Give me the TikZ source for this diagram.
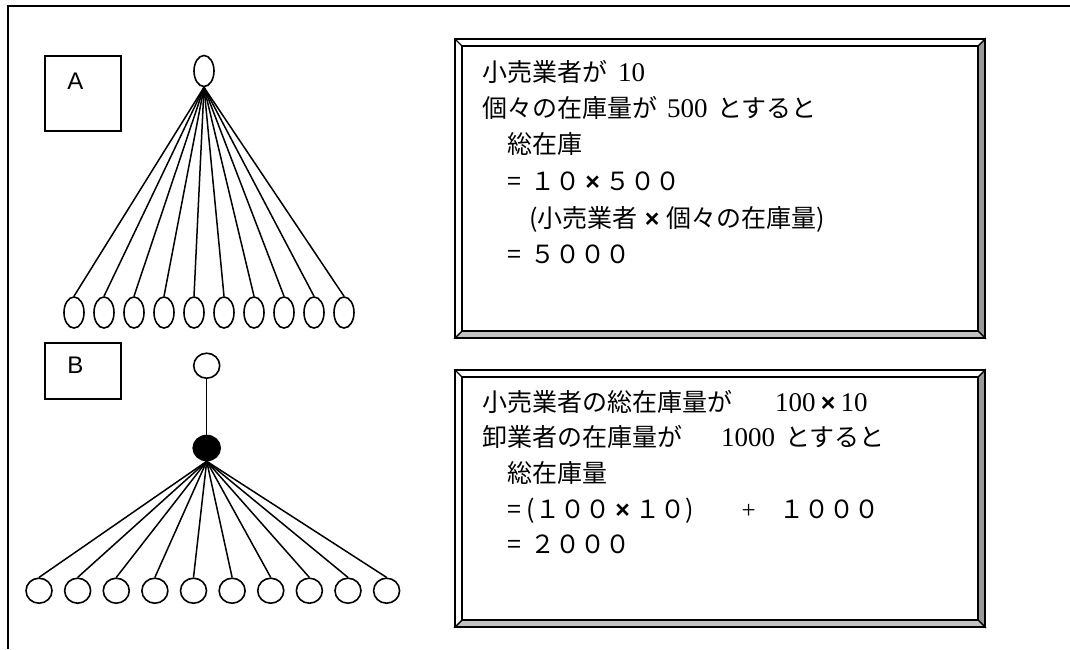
\documentclass[tikz,border=0pt]{standalone}
\usepackage{fontspec}
\setmainfont{Liberation Serif}
\newfontfamily\jp{Noto Sans CJK JP}
\newfontfamily\arialf{Liberation Sans}
\usetikzlibrary{shapes.geometric}
\definecolor{bevR}{gray}{0.6}
\definecolor{bevB}{gray}{0.76}
\newcommand{\X}{\makebox[25pt]{\arialf\bfseries ×}}
\newcommand{\numf}[1]{{\rmfamily\fontsize{27}{30}\selectfont #1}}
\newcommand{\mybevel}[4]{%
  \filldraw[bevel, fill=bevR] (#3,#2) -- (#3,#4) -- (#3-7,#4-7) -- (#3-7,#2+7) -- cycle;
  \filldraw[bevel, fill=bevB] (#1,#4) -- (#3,#4) -- (#3-7,#4-7) -- (#1+7,#4-7) -- cycle;
  \draw[bevel] (#1,#2) rectangle (#3,#4);
  \draw[bevel] (#1+7,#2+7) rectangle (#3-7,#4-7);
  \draw[bevel] (#1,#2) -- (#1+7,#2+7);
}
\tikzset{
  bevel/.style={line width=1.4pt},
  lblbox/.style={draw, line width=1.4pt, minimum width=76pt, minimum height=75pt, inner sep=0pt},
  lbltext/.style={inner sep=0pt, font=\arialf\fontsize{24}{28}\selectfont},
  leafA/.style={ellipse, draw, line width=1.6pt, inner sep=0pt, minimum width=20pt, minimum height=31pt},
  leafB/.style={ellipse, draw, line width=1.6pt, inner sep=0pt, minimum width=26pt, minimum height=25pt},
  hub/.style={ellipse, draw, fill=black, line width=1.6pt, inner sep=0pt, minimum width=27pt, minimum height=25pt},
  link/.style={line width=1.5pt},
  txt/.style={anchor=base west, inner sep=0pt, font=\jp\fontsize{25}{30}\selectfont},
}
\begin{document}
\begin{tikzpicture}[x=1pt,y=-1pt]
\useasboundingbox (0,0) rectangle (1070,649);
% outer frame
\draw[line width=2pt] (1070,5.5) -- (7.5,5.5) -- (7.5,649);

% ---- A ----
\node[lblbox, minimum height=75pt] (boxA) at (83,93.5) {};
\node[lbltext] (labA) at (75.5,81.5) {A};
\node[leafA] (a0) at (204,71) {};
\foreach \i in {1,...,10} {
  \node[leafA] (a\i) at ({44+30*\i},312.5) {};
  \draw[link] (a0.south) -- (a\i.north);
}

% ---- B ----
\node[lblbox, minimum height=56pt] (boxB) at (83,371) {};
\node[lbltext] (labB) at (75.5,365.5) {B};
\node[leafB] (b0) at (206.7,365.7) {};
\node[hub] (bh) at (206.7,448) {};
\draw[link] (b0.south) -- (bh.north);
\foreach \i in {1,...,10} {
  \node[leafB] (b\i) at ({0.4+38.62*\i},590.7) {};
  \draw[link] (bh.south) -- (b\i.north);
}

% ---- text box 1 ----
\mybevel{455}{39}{985}{338}
\node[txt] (t11) at (482,81.5) {小売業者が\hspace{11pt}\numf{10}};
\node[txt] (t12) at (482,117.5) {個々の在庫量が\hspace{10pt}\numf{500}\hspace{10pt}とすると};
\node[txt] (t13) at (507,153.5) {総在庫};
\node[txt] (t14) at (507,190.5) {=\hspace{9pt}１０\X５００};
\node[txt] (t15) at (529,227.5) {(小売業者\hspace{2pt}\X\hspace{2pt}個々の在庫量)};
\node[txt] (t16) at (507,263.5) {=\hspace{9pt}５０００};

% ---- text box 2 ----
\mybevel{455}{370}{985}{627}
\node[txt] (t21) at (482,411) {小売業者の総在庫量が\hspace{43pt}\numf{100}\X\numf{10}};
\node[txt] (t22) at (482,446) {卸業者の在庫量が\hspace{39pt}\numf{1000}\hspace{10pt}とすると};
\node[txt] (t23) at (507,482) {総在庫量};
\node[txt] (t24) at (507,518) {= (１００\X１０)\hspace{48pt}{\rmfamily +}\hspace{24pt}１０００};
\node[txt] (t25) at (507,553) {=\hspace{9pt}２０００};
\end{tikzpicture}
\end{document}
